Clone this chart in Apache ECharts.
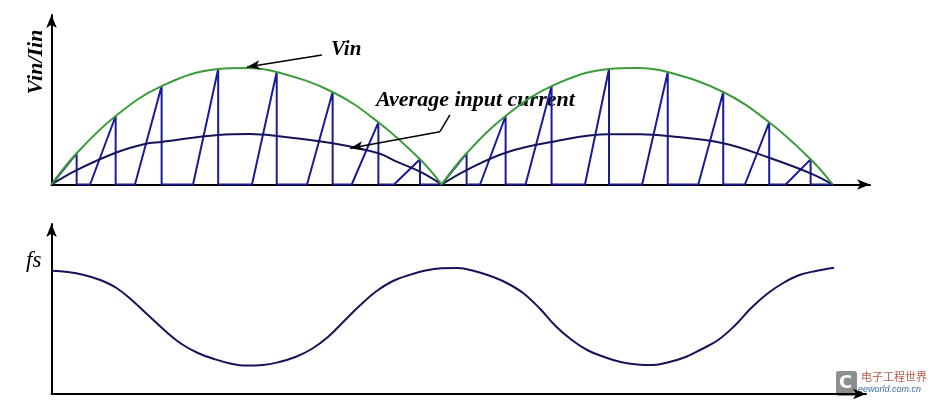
<!DOCTYPE html>
<html>
<head>
<meta charset="UTF-8" />
<title>PFC Vin / fs</title>
<script src="https://cdn.jsdelivr.net/npm/echarts@6/dist/echarts.min.js"></script>
<style>
  html, body { margin: 0; padding: 0; background: #fff; }
  #main { width: 932px; height: 405px; }
</style>
</head>
<body>
<div id="main"></div>
<script>
// x in degrees of the line period (0..360 = two half waves), y normalised to Vin peak
// Vin, first and second half wave
var vinX1 = [0, 11.6, 29.6, 50.8, 76.9, 90, 103.9, 129.7, 150.8, 170, 180];
var vinY1 = [0, 0.268, 0.588, 0.845, 0.991, 1.0, 0.966, 0.794, 0.534, 0.216, 0];
var vinX2 = [180, 191.5, 209.5, 230.7, 257.2, 270, 284.3, 309.9, 331.1, 350.2, 360.4];
var vinY2 = [0, 0.268, 0.588, 0.845, 0.991, 1.0, 0.966, 0.794, 0.534, 0.216, 0];

// average input current
var avgX1 = [0, 11.6, 29.6, 43.1, 50.8, 76.9, 91.6, 103.9, 129.7, 150.8, 159.2, 170, 180];
var avgY1 = [0, 0.124, 0.273, 0.348, 0.365, 0.425, 0.433, 0.416, 0.354, 0.268, 0.196, 0.110, 0];
var avgX2 = [180, 191.5, 209.5, 230.7, 257.2, 271.5, 284.3, 309.9, 331.1, 350.2, 360.4];
var avgY2 = [0, 0.124, 0.273, 0.365, 0.431, 0.431, 0.416, 0.354, 0.230, 0.096, 0];

// inductor current ramps: ramp start, ramp top (on Vin), top value
var sawStart = [0, 17.8, 38.5, 65.3, 92.5, 117.9, 138.5, 158.0, 180, 197.7, 218.7, 246.1, 272.5, 298.4, 319.9, 338.7];
var sawTopX = [11.6, 29.6, 50.8, 76.9, 103.9, 129.7, 150.8, 170.0, 191.5, 209.5, 230.7, 257.2, 284.3, 309.9, 331.1, 350.2];
var sawTopY = [0.268, 0.588, 0.845, 0.991, 0.966, 0.794, 0.534, 0.216, 0.268, 0.588, 0.845, 0.991, 0.966, 0.794, 0.534, 0.216];
var sawEnd = 360.4;

// switching frequency, read every 7.5 degrees
var fsX = [0, 7.5, 15, 22.5, 30, 37.5, 45, 52.5, 60, 67.5, 75, 82.5, 90, 97.5, 105, 112.5, 120, 127.5, 135, 142.5, 150, 157.5, 165, 172.5, 180,
  187.5, 195, 202.5, 210, 217.5, 225, 232.5, 240, 247.5, 255, 262.5, 270, 277.5, 285, 292.5, 300, 307.5, 315, 322.5, 330, 337.5, 345, 352.5, 361];
var fsY = [1.233, 1.22, 1.19, 1.14, 1.06, 0.93, 0.78, 0.63, 0.5, 0.41, 0.35, 0.305, 0.285, 0.29, 0.32, 0.37, 0.45, 0.57, 0.73, 0.89, 1.03, 1.13, 1.19, 1.235, 1.257,
  1.26, 1.23, 1.18, 1.11, 1.01, 0.86, 0.68, 0.54, 0.435, 0.37, 0.32, 0.295, 0.29, 0.32, 0.37, 0.45, 0.54, 0.68, 0.855, 1.0, 1.11, 1.19, 1.23, 1.263];

function pairs(xs, ys) {
  var out = [];
  for (var i = 0; i < xs.length; i++) out.push([xs[i], ys[i]]);
  return out;
}

var saw = [];
for (var i = 0; i < sawStart.length; i++) {
  saw.push([sawStart[i], 0]);
  saw.push([sawTopX[i], sawTopY[i]]);
  saw.push([sawTopX[i], 0]);
}
saw.push([sawEnd, 0]);

var serif = '"Liberation Serif", "DejaVu Serif", serif';
var green = '#3c9c3c';
var blue = '#1a1a9c';
var navy = '#14145a';

function axisX(grid, max) {
  return {
    type: 'value', gridIndex: grid, min: 0, max: max,
    axisLine: { show: true, symbol: ['none', 'arrow'], symbolSize: [8, 13], lineStyle: { color: '#000', width: 2 } },
    axisTick: { show: false }, axisLabel: { show: false }, splitLine: { show: false }
  };
}
function axisY(grid, max) {
  return {
    type: 'value', gridIndex: grid, min: 0, max: max,
    axisLine: { show: true, symbol: ['none', 'arrow'], symbolSize: [8, 13], lineStyle: { color: '#000', width: 2 } },
    axisTick: { show: false }, axisLabel: { show: false }, splitLine: { show: false }
  };
}

var arrowLine = { color: '#000', width: 1.5, type: 'solid' };

var chart = echarts.init(document.getElementById('main'));
chart.setOption({
  backgroundColor: '#fff',
  animation: false,
  grid: [
    { left: 51.5, right: 62, top: 15, bottom: 220.5 },
    { left: 51.5, right: 66, top: 224, bottom: 11 }
  ],
  xAxis: [axisX(0, 377.6), axisX(1, 375.7)],
  yAxis: [axisY(0, 1.455), axisY(1, 1.7)],
  series: [
    {
      name: 'ramp', type: 'line', xAxisIndex: 0, yAxisIndex: 0, data: saw,
      showSymbol: false, lineStyle: { color: blue, width: 2 }, z: 2
    },
    {
      name: 'avg1', type: 'line', xAxisIndex: 0, yAxisIndex: 0, data: pairs(avgX1, avgY1),
      smooth: 0.4, showSymbol: false, lineStyle: { color: navy, width: 2 }, z: 3
    },
    {
      name: 'avg2', type: 'line', xAxisIndex: 0, yAxisIndex: 0, data: pairs(avgX2, avgY2),
      smooth: 0.4, showSymbol: false, lineStyle: { color: navy, width: 2 }, z: 3,
      markLine: {
        silent: true, animation: false, label: { show: false }, lineStyle: arrowLine,
        data: [
          [{ coord: [183.8, 0.597], symbol: 'none' }, { coord: [179.2, 0.453], symbol: 'none' }],
          [{ coord: [179.2, 0.453], symbol: 'none' }, { coord: [137.7, 0.311], symbol: 'arrow', symbolSize: [7, 13] }]
        ]
      }
    },
    {
      name: 'vin1', type: 'line', xAxisIndex: 0, yAxisIndex: 0, data: pairs(vinX1, vinY1),
      smooth: 0.4, showSymbol: false, lineStyle: { color: green, width: 2 }, z: 4,
      markLine: {
        silent: true, animation: false, label: { show: false }, lineStyle: arrowLine,
        data: [
          [{ coord: [124.8, 1.112], symbol: 'none' }, { coord: [90.2, 1.009], symbol: 'arrow', symbolSize: [7, 13] }]
        ]
      }
    },
    {
      name: 'vin2', type: 'line', xAxisIndex: 0, yAxisIndex: 0, data: pairs(vinX2, vinY2),
      smooth: 0.4, showSymbol: false, lineStyle: { color: green, width: 2 }, z: 4
    },
    {
      name: 'fs', type: 'line', xAxisIndex: 1, yAxisIndex: 1, data: pairs(fsX, fsY),
      smooth: 0.4, showSymbol: false, lineStyle: { color: navy, width: 2 }
    }
  ],
  graphic: [
    {
      type: 'text', x: 36, y: 62, rotation: Math.PI / 2,
      style: { text: 'Vin/Iin', font: 'italic bold 22px ' + serif, fill: '#000', align: 'center', verticalAlign: 'middle' }
    },
    {
      type: 'text', x: 331, y: 39,
      style: { text: 'Vin', font: 'italic bold 21px ' + serif, fill: '#000' }
    },
    {
      type: 'text', x: 376, y: 89,
      style: { text: 'Average input current', font: 'italic bold 22px ' + serif, fill: '#000' }
    },
    {
      type: 'text', x: 26, y: 249,
      style: { text: 'fs', font: 'italic 23px ' + serif, fill: '#000' }
    },
    // eeworld watermark
    {
      type: 'rect', shape: { x: 836, y: 371, width: 21, height: 25, r: 3 },
      style: { fill: '#8e8e8e' }
    },
    {
      type: 'text', x: 839, y: 374,
      style: { text: 'C', font: 'bold 18px "DejaVu Sans", sans-serif', fill: '#fff' }
    },
    {
      type: 'text', x: 861, y: 371,
      style: { text: '电子工程世界', font: '11px "Noto Sans CJK SC", sans-serif', fill: '#b85a4a' }
    },
    {
      type: 'text', x: 858, y: 385,
      style: { text: 'eeworld.com.cn', font: 'italic 9px "Liberation Sans", sans-serif', fill: '#3b6aa8' }
    }
  ]
});
</script>
</body>
</html>
